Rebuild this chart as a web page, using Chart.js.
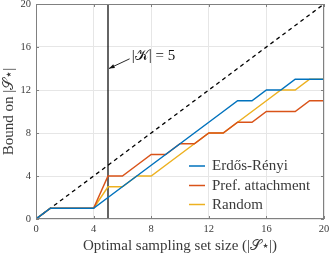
<!DOCTYPE html>
<html><head><meta charset="utf-8">
<script src="https://cdn.jsdelivr.net/npm/chart.js@4"></script>
<style>html,body{margin:0;padding:0;background:#fff}#wrap{width:329px;height:254px}</style>
</head><body><div id="wrap"><canvas id="c" width="329" height="254"></canvas></div>
<script>
// ---- data ----
const setSizes = [0,1,2,3,4,5,6,7,8,9,10,11,12,13,14,15,16,17,18,19,20];
const erdosRenyi = [0,1,1,1,1,2,3,4,5,6,7,8,9,10,11,11,12,12,13,13,13];
const prefAttachment = [0,1,1,1,1,4,4,5,6,6,7,7,8,8,9,9,10,10,10,11,11];
const randomGraph = [0,1,1,1,1,3,3,4,4,5,6,7,8,8,9,10,11,12,12,13,13];
const seriesLabels = ["Erdős-Rényi", "Pref. attachment", "Random"];
const diagonalX = [0, 20];
const diagonalY = [0, 20];
const kSize = 5;
const kLineY = [0, 20];
const kLabel = "|\u{1D4A6}| = 5";
const xTicks = [0,4,8,12,16,20];
const yTicks = [0,4,8,12,16,20];
const xTitle = "Optimal sampling set size (|\u{1D4AE}\u22C6|)";
const yTitle = "Bound on |\u{1D4AE}\u22C6|";

const colors = ["#0072BD", "#D95319", "#EDB120"];
const serif = "'Liberation Serif', 'DejaVu Serif', serif";
const textColor = "#3a3a3a";

const toPts = (xs, ys) => xs.map((x, i) => ({x, y: ys[i]}));

const datasets = [
  {label: seriesLabels[0], data: toPts(setSizes, erdosRenyi), borderColor: colors[0]},
  {label: seriesLabels[1], data: toPts(setSizes, prefAttachment), borderColor: colors[1]},
  {label: seriesLabels[2], data: toPts(setSizes, randomGraph), borderColor: colors[2]},
  {label: "bound", data: toPts(diagonalX, diagonalY), borderColor: "#000", borderDash: [4, 3.5], borderWidth: 1.3},
  {label: "K", data: toPts([kSize, kSize], kLineY), borderColor: "#111", borderWidth: 1.3}
].map(d => Object.assign({borderWidth: 1.5, pointRadius: 0, fill: false, tension: 0, showLine: true}, d));

const overlay = {
  id: "overlay",
  afterDatasetsDraw(chart) {
    const ctx = chart.ctx, xs = chart.scales.x, ys = chart.scales.y, a = chart.chartArea;
    ctx.save();
    ctx.strokeStyle = "#808080"; ctx.lineWidth = 1;
    xTicks.forEach(t => {
      const px = Math.round(xs.getPixelForValue(t)) + 0.5;
      ctx.beginPath(); ctx.moveTo(px, a.bottom); ctx.lineTo(px, a.bottom - 3);
      ctx.moveTo(px, a.top); ctx.lineTo(px, a.top + 3); ctx.stroke();
    });
    yTicks.forEach(t => {
      const py = Math.round(ys.getPixelForValue(t)) + 0.5;
      ctx.beginPath(); ctx.moveTo(a.left, py); ctx.lineTo(a.left + 3, py);
      ctx.moveTo(a.right, py); ctx.lineTo(a.right - 3, py); ctx.stroke();
    });
    ctx.strokeRect(a.left + 0.5, a.top + 0.5, a.right - a.left - 1, a.bottom - a.top - 1);
    // annotation
    const tx = xs.getPixelForValue(6.65), ty = ys.getPixelForValue(15.2);
    ctx.fillStyle = "#111"; ctx.font = "15px " + serif;
    ctx.textBaseline = "middle"; ctx.textAlign = "left";
    ctx.fillText(kLabel, tx, ty);
    const x1 = xs.getPixelForValue(6.5), y1 = ys.getPixelForValue(14.9);
    const x2 = xs.getPixelForValue(kSize) + 1, y2 = ys.getPixelForValue(14.0);
    ctx.strokeStyle = "#111"; ctx.lineWidth = 0.9;
    ctx.beginPath(); ctx.moveTo(x1, y1); ctx.lineTo(x2, y2); ctx.stroke();
    const ang = Math.atan2(y2 - y1, x2 - x1), L = 6;
    ctx.fillStyle = "#111";
    ctx.beginPath(); ctx.moveTo(x2, y2);
    ctx.lineTo(x2 - L * Math.cos(ang - 0.35), y2 - L * Math.sin(ang - 0.35));
    ctx.lineTo(x2 - L * Math.cos(ang + 0.35), y2 - L * Math.sin(ang + 0.35));
    ctx.closePath(); ctx.fill();
    // legend
    ctx.font = "15px " + serif; ctx.fillStyle = textColor;
    const rows = [166, 185.5, 204.5];
    seriesLabels.forEach((lab, i) => {
      ctx.strokeStyle = colors[i]; ctx.lineWidth = 1.5;
      ctx.beginPath(); ctx.moveTo(189, rows[i]); ctx.lineTo(205, rows[i]); ctx.stroke();
      ctx.fillText(lab, 212, rows[i] + 0.5);
    });
    ctx.restore();
  }
};

new Chart(document.getElementById("c"), {
  type: "scatter",
  data: {datasets},
  options: {
    responsive: false, animation: false, devicePixelRatio: 1,
    layout: {padding: {left: 0, right: 5, top: 4, bottom: 0}},
    plugins: {legend: {display: false}, tooltip: {enabled: false}},
    scales: {
      x: {
        type: "linear", min: 0, max: 20,
        afterBuildTicks: s => { s.ticks = xTicks.map(v => ({value: v})); },
        afterFit: s => { s.height = 35; s.paddingLeft = 0; s.paddingRight = 0; },
        grid: {color: "#e6e6e6", drawTicks: false},
        border: {display: false},
        ticks: {padding: 4, color: textColor, font: {family: serif, size: 10.5}, maxRotation: 0},
        title: {display: true, text: xTitle, color: textColor, font: {family: serif, size: 15, lineHeight: 1}, padding: {top: 0, bottom: 0}}
      },
      y: {
        type: "linear", min: 0, max: 20,
        afterBuildTicks: s => { s.ticks = yTicks.map(v => ({value: v})); },
        afterFit: s => { s.width = 36; s.paddingTop = 0; s.paddingBottom = 0; },
        grid: {color: "#e6e6e6", drawTicks: false},
        border: {display: false},
        ticks: {padding: 5, color: textColor, font: {family: serif, size: 10.5}},
        title: {display: true, text: yTitle, color: textColor, font: {family: serif, size: 15}, padding: {top: 0, bottom: 0}}
      }
    }
  },
  plugins: [overlay]
});
</script>
</body></html>
